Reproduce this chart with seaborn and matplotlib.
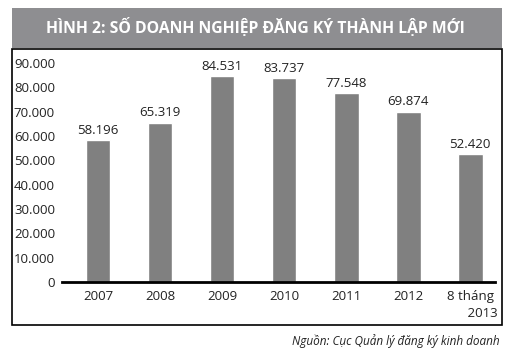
import matplotlib
matplotlib.use("Agg")
import matplotlib.pyplot as plt
import seaborn as sns
import pandas as pd
from matplotlib.patches import Rectangle

years = ["2007", "2008", "2009", "2010", "2011", "2012", "8 tháng\n       2013"]
counts = [58196, 65319, 84531, 83737, 77548, 69874, 52420]
bar_labels = ["58.196", "65.319", "84.531", "83.737", "77.548", "69.874", "52.420"]
yticks = [0, 10000, 20000, 30000, 40000, 50000, 60000, 70000, 80000, 90000]
ytick_labels = ["0", "10.000", "20.000", "30.000", "40.000", "50.000",
                "60.000", "70.000", "80.000", "90.000"]

sns.set_style("white")
plt.rcParams['font.family'] = ['Open Sans', 'DejaVu Sans']

df = pd.DataFrame({"nam": years, "so": counts})

fig = plt.figure(figsize=(5.11, 3.58), dpi=100)

# khung tieu de + khung bieu do
fig.patches.append(Rectangle((12/511, 1-48/358), 490/511, 40/358, transform=fig.transFigure,
                             facecolor="#8e8e91", edgecolor="none"))
fig.patches.append(Rectangle((12/511, 1-325/358), 490/511, 276/358, transform=fig.transFigure,
                             facecolor="none", edgecolor="black", linewidth=1.2))
fig.text(0.5, 1-28/358, "HÌNH 2: SỐ DOANH NGHIỆP ĐĂNG KÝ THÀNH LẬP MỚI",
         ha="center", va="center", color="white", fontsize=11.3, fontweight="bold")

ax = fig.add_axes([62/511, 1-282/358, 433/511, 227/358])
sns.barplot(data=df, x="nam", y="so", color="#808080", width=0.4, saturation=1, ax=ax)

for i, (v, t) in enumerate(zip(counts, bar_labels)):
    ax.text(i, v + 1500, t, ha="center", va="bottom", fontsize=9.5, color="#222222")

ax.set_ylim(0, 93300)
ax.set_xlim(-0.58, 6.4)
ax.set_yticks(yticks)
ax.set_yticklabels(ytick_labels, fontsize=9.5, color="#222222")
ax.set_xticklabels(years, fontsize=9.5, color="#222222", linespacing=1.4)
ax.tick_params(axis="both", length=0, pad=6)
ax.tick_params(axis="y", pad=5)
ax.set_xlabel("")
ax.set_ylabel("")
for s in ["top", "right", "left"]:
    ax.spines[s].set_visible(False)
ax.spines["bottom"].set_linewidth(2)
ax.spines["bottom"].set_color("black")
ax.patch.set_alpha(0)

fig.text(500/511, 1-341/358, "Nguồn: Cục Quản lý đăng ký kinh doanh",
         ha="right", va="center", fontsize=8.5, style="italic", color="#222222")

fig.savefig("out.png", dpi=100)
